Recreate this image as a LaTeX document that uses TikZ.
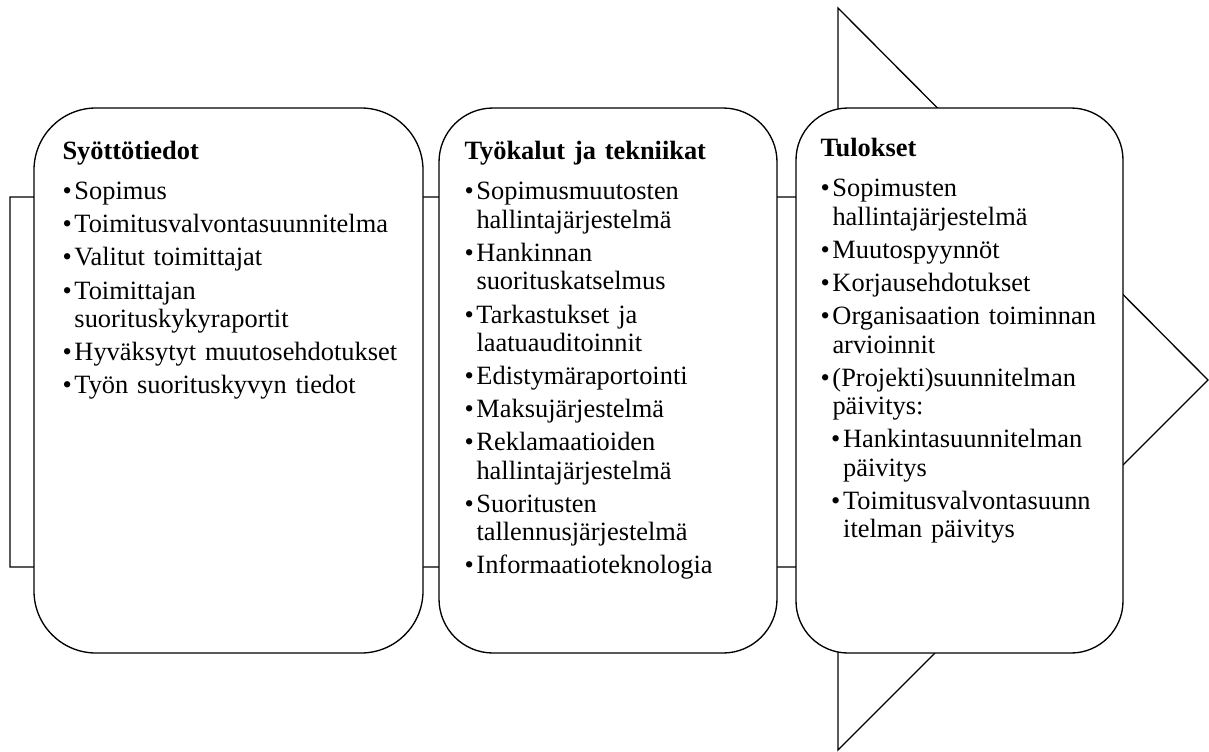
\documentclass[tikz,border=0pt]{standalone}
\usepackage{fontspec}
\setmainfont{Liberation Serif}

\tikzset{every picture/.style={line width=0.75pt}}
\tikzset{
  laatikko/.style={draw, fill=white, line width=1pt},
  luettelo/.style={anchor=north west, inner sep=0pt, align=left, text width=#1,
    font=\fontsize{19.8}{21.4}\selectfont},
}
\newcommand{\otsikko}[1]{\setlength{\parskip}{3.4pt}\textbf{#1}\par\vspace{5.2pt}}
\newcommand{\kohta}[2][0pt]{\par\hangindent=\dimexpr#1+9pt\relax\hangafter=1\noindent\hspace*{#1}\makebox[9pt][l]{\textbullet}#2\par}

\begin{document}
\begin{tikzpicture}[x=0.75pt,y=0.75pt,yscale=-1,xscale=1]
\useasboundingbox (0,0) rectangle (1209,751);

%Shape: Right Arrow [id:nuoli]
\draw [line width=1pt]  (10,197) -- (838,197) -- (838,8) -- (1208,380) -- (838,750) -- (838,567) -- (10,567) -- cycle ;

%Shape: Rounded Rect [id:syotto]
\draw [laatikko, rounded corners=46.5pt]  (34,108) rectangle (423,653) ;
%Shape: Rounded Rect [id:tyokalut]
\draw [laatikko, rounded corners=40.5pt]  (439,108) rectangle (777,653) ;
%Shape: Rounded Rect [id:tulokset]
\draw [laatikko, rounded corners=39pt]  (796,108) rectangle (1123,653) ;

% Text Node
\node [luettelo=260pt] (syotto-teksti) at (62,141) {\otsikko{Syöttötiedot}
  \kohta{Sopimus}
  \kohta{Toimitusvalvontasuunnitelma}
  \kohta{Valitut toimittajat}
  \kohta{Toimittajan\newline suorituskykyraportit}
  \kohta{Hyväksytyt muutosehdotukset}
  \kohta{Työn suorituskyvyn tiedot}};
% Text Node
\node [luettelo=235pt] (tyokalut-teksti) at (464,141) {\otsikko{Työkalut ja tekniikat}
  \kohta{Sopimusmuutosten\newline hallintajärjestelmä}
  \kohta{Hankinnan\newline suorituskatselmus}
  \kohta{Tarkastukset ja\newline laatuauditoinnit}
  \kohta{Edistymäraportointi}
  \kohta{Maksujärjestelmä}
  \kohta{Reklamaatioiden\newline hallintajärjestelmä}
  \kohta{Suoritusten\newline tallennusjärjestelmä}
  \kohta{Informaatioteknologia}};
% Text Node
\node [luettelo=230pt] (tulokset-teksti) at (820,138) {\otsikko{Tulokset}
  \kohta{Sopimusten\newline hallintajärjestelmä}
  \kohta{Muutospyynnöt}
  \kohta{Korjausehdotukset}
  \kohta{Organisaation toiminnan\newline arvioinnit}
  \kohta{(Projekti)suunnitelman\newline päivitys:}
  \kohta[8pt]{Hankintasuunnitelman\newline päivitys}
  \kohta[8pt]{Toimitusvalvontasuunn\newline itelman päivitys}};

\end{tikzpicture}
\end{document}
